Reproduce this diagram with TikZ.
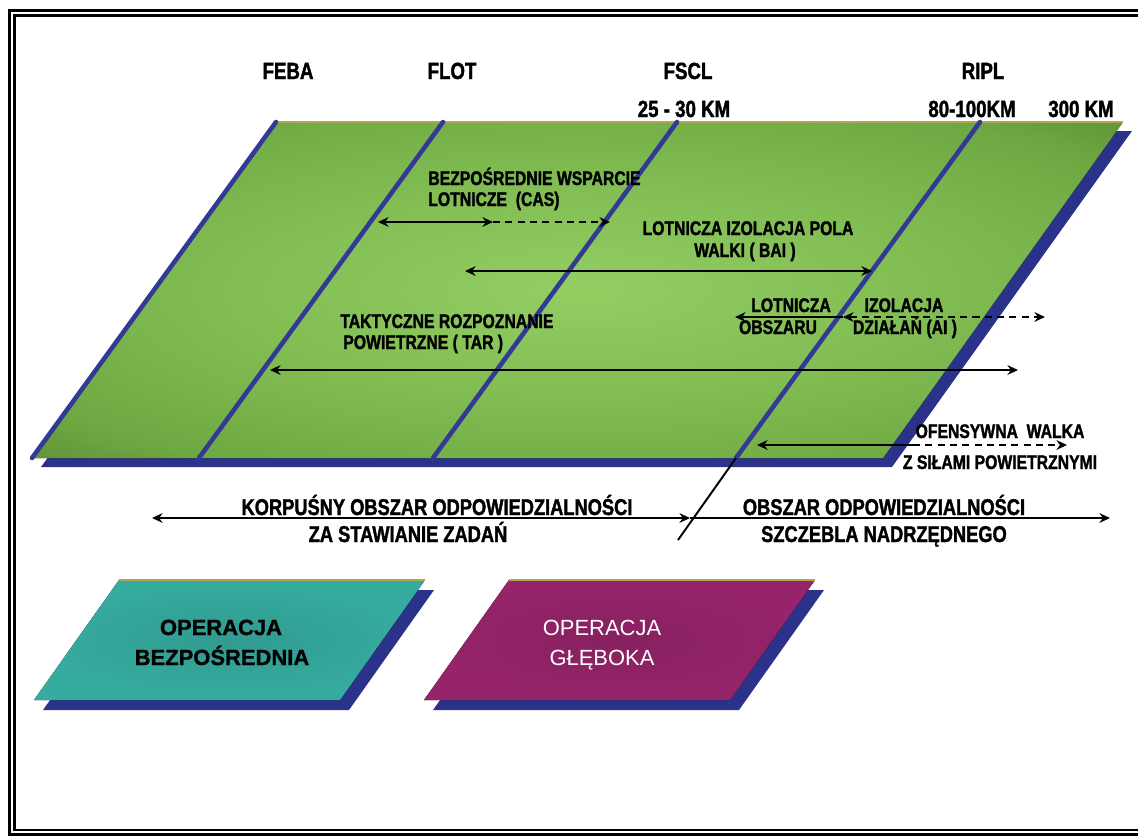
\documentclass[tikz,border=0pt]{standalone}
\usepackage{fontspec}
\setmainfont{Liberation Sans}[BoldFeatures={FakeBold=1.2}]
\newfontfamily\narrowsans{Liberation Sans}[FakeStretch=0.8, BoldFeatures={FakeBold=1.6}]
\usetikzlibrary{arrows.meta,positioning}
\definecolor{fielddark}{RGB}{78,120,40}
\definecolor{fieldmid}{RGB}{110,168,66}
\definecolor{fieldlight}{RGB}{146,206,98}
\definecolor{lineblue}{RGB}{50,58,150}
\definecolor{shadowblue}{RGB}{42,50,138}
\definecolor{edgeolive}{RGB}{176,168,80}
\definecolor{opteal}{RGB}{54,172,160}
\definecolor{opmagenta}{RGB}{150,36,106}
\pgfdeclareradialshading{fieldglow}{\pgfpoint{0bp}{0bp}}{%
  color(0bp)=(fieldlight); color(16bp)=(fieldlight!55!fieldmid);
  color(30bp)=(fieldmid); color(44bp)=(fielddark); color(50bp)=(fielddark)}
\tikzset{
  field/.style={
    shading = fieldglow
  },
  drop/.style={
    fill = shadowblue
  },
  phase/.style={
    draw = lineblue,
    line width = 2.6pt,
    line cap = round
  },
  tag/.style={
    font = \narrowsans\bfseries\fontsize{13.3}{15}\selectfont,
    inner sep = 0pt,
    anchor = base
  },
  note/.style={
    font = \narrowsans\bfseries\fontsize{11.2}{13}\selectfont,
    inner sep = 0pt,
    anchor = base
  },
  zone/.style={
    font = \narrowsans\bfseries\fontsize{13}{15}\selectfont,
    inner sep = 0pt,
    anchor = base
  },
  optext/.style={
    font = \fontsize{12.5}{15}\selectfont,
    inner sep = 0pt,
    anchor = base
  },
  span/.style={
    line width = 1pt
  },
  broken/.style={
    dash pattern = on 4pt off 3pt
  }
}

\begin{document}
\begin{tikzpicture}[x=0.02cm, y=-0.02cm, >={Stealth[length=6pt,width=5.5pt]}]
  \useasboundingbox (0,0) rectangle (1138,836);
  % frame
  \draw[double=white, double distance=0.8pt, line width=1.6pt] (12,13) rectangle (1150,832);

  % field of operations
  \coordinate (fNW) at (276,122);
  \coordinate (fNE) at (1123,122);
  \coordinate (fSE) at (883,458);
  \coordinate (fSW) at (32,458);
  \fill[drop] ([shift={(9,9)}]fNW) -- ([shift={(9,9)}]fNE) -- ([shift={(9,9)}]fSE) -- ([shift={(9,9)}]fSW) -- cycle;
  \fill[field] (fNW) -- (fNE) -- (fSE) -- (fSW) -- cycle;
  \draw[edgeolive, line width=0.6pt] (fNW) -- (fNE);
  \foreach \t/\b in {276/32, 443/199, 677/433, 980/736}{
    \draw[phase] (\t,122) -- (\b,458);
  }
  \coordinate (riplS) at (736,458);
  \coordinate (riplE) at (678,540);
  \draw[line width=1.1pt] (riplS) -- (riplE);

  % line names and depths
  \node[tag] (feba) at (288,79) {FEBA};
  \node[tag] (flot) at (452,79) {FLOT};
  \node[tag] (fscl) at (688,79) {FSCL};
  \node[tag] (ripl) at (983,79) {RIPL};
  \node[tag] (km30) at (684,117) {25 - 30 KM};
  \node[tag] (km100) at (972,117) {80-100KM};
  \node[tag] (km300) at (1081,117) {300 KM};

  % CAS
  \node[note, anchor=base west] (cas1) at (428,185) {BEZPOŚREDNIE WSPARCIE};
  \node[note, anchor=base west] (cas2) at (428,206) {LOTNICZE~~(CAS)};
  \coordinate (casL) at (378,222);
  \coordinate (casM) at (493,222);
  \coordinate (casR) at (610,222);
  \draw[span,<->] (casL) -- (casM);
  \draw[span,broken,->] (casM) -- (casR);

  % BAI
  \node[note] (bai1) at (748,235) {LOTNICZA IZOLACJA POLA};
  \node[note] (bai2) at (745,257) {WALKI ( BAI )};
  \coordinate (baiL) at (465,271);
  \coordinate (baiR) at (872,271);
  \draw[span,<->] (baiL) -- (baiR);

  % AI
  \node[note] (ai1) at (791,312) {LOTNICZA};
  \node[note] (ai2) at (778,334) {OBSZARU};
  \node[note] (ai3) at (904,312) {IZOLACJA};
  \node[note] (ai4) at (905,334) {DZIAŁAŃ (AI )};
  \coordinate (aiL) at (735,317);
  \coordinate (aiM) at (843,317);
  \coordinate (aiR) at (1045,317);
  \draw[span,->] (aiM) -- (aiL);
  \draw[span,broken,<->] (aiM) -- (aiR);

  % TAR
  \node[note, anchor=base west] (tar1) at (340,328) {TAKTYCZNE ROZPOZNANIE};
  \node[note, anchor=base west] (tar2) at (343,349) {POWIETRZNE ( TAR )};
  \coordinate (tarL) at (270,370);
  \coordinate (tarR) at (1018,370);
  \draw[span,<->] (tarL) -- (tarR);

  % OCA
  \node[note] (off1) at (1000,438) {OFENSYWNA~~WALKA};
  \node[note] (off2) at (1000,469) {Z SIŁAMI POWIETRZNYMI};
  \coordinate (offL) at (757,445);
  \coordinate (offM) at (913,445);
  \coordinate (offR) at (1067,445);
  \draw[span,<-] (offL) -- (offM);
  \draw[span,broken,->] (offM) -- (offR);

  % areas of responsibility
  \node[zone] (korp1) at (437,515) {KORPUŚNY OBSZAR ODPOWIEDZIALNOŚCI};
  \node[zone] (korp2) at (408,542) {ZA STAWIANIE ZADAŃ};
  \node[zone] (nadr1) at (884,515) {OBSZAR ODPOWIEDZIALNOŚCI};
  \node[zone] (nadr2) at (884,542) {SZCZEBLA NADRZĘDNEGO};
  \coordinate (botL) at (152,518);
  \coordinate (botM) at (690,518);
  \coordinate (botR) at (1110,518);
  \draw[span,<->] (botL) -- (botM);
  \draw[span,->] (botM) -- (botR);

  % operations
  \foreach \x/\c in {0/opteal, 390/opmagenta}{
    \fill[drop] (\x+128,590) -- (\x+434,590) -- (\x+349,710) -- (\x+43,710) -- cycle;
    \fill[shading=radial, inner color=\c!90!black, outer color=\c] (\x+119,580) -- (\x+425,580) -- (\x+340,700) -- (\x+34,700) -- cycle;
    \draw[edgeolive, line width=0.6pt] (\x+119,580) -- (\x+425,580);
  }
  \node[optext, font=\bfseries\fontsize{12.5}{15}\selectfont] (direct1) at (221,635) {OPERACJA};
  \node[optext, font=\bfseries\fontsize{12.5}{15}\selectfont] (direct2) at (222,665) {BEZPOŚREDNIA};
  \node[optext, text=white] (deep1) at (602,635) {OPERACJA};
  \node[optext, text=white] (deep2) at (602,665) {GŁĘBOKA};
\end{tikzpicture}
\end{document}
